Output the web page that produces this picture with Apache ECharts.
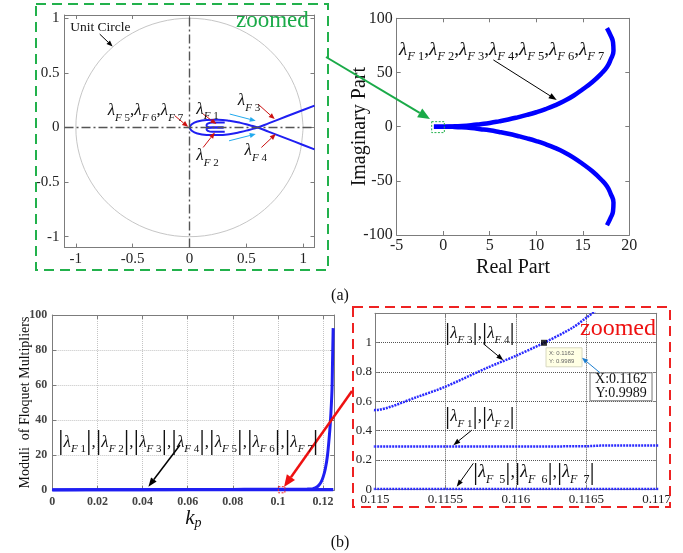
<!DOCTYPE html>
<html>
<head>
<meta charset="utf-8">
<script src="https://cdn.jsdelivr.net/npm/echarts@6/dist/echarts.min.js"></script>
<style>
html, body { margin: 0; padding: 0; background: #fff; }
#c { width: 683px; height: 553px; }
</style>
</head>
<body>
<div id="c"></div>
<script>
// ---------- (a) left: Floquet multipliers inside the unit circle ----------
const unitCircle = [[1,0],[0.966,0.259],[0.866,0.5],[0.707,0.707],[0.5,0.866],[0.259,0.966],[0,1],
  [-0.259,0.966],[-0.5,0.866],[-0.707,0.707],[-0.866,0.5],[-0.966,0.259],[-1,0],[-0.966,-0.259],
  [-0.866,-0.5],[-0.707,-0.707],[-0.5,-0.866],[-0.259,-0.966],[0,-1],[0.259,-0.966],[0.5,-0.866],
  [0.707,-0.707],[0.866,-0.5],[0.966,-0.259],[1,0]];
const locusF3 = [[0,0],[0.02,0.03],[0.07,0.055],[0.15,0.068],[0.25,0.07],[0.35,0.062],[0.45,0.042],
  [0.53,0.02],[0.6,0],[0.7,-0.04],[0.85,-0.1],[1.0,-0.16],[1.1,-0.2]];
const locusF4 = [[0,0],[0.02,-0.03],[0.07,-0.055],[0.15,-0.068],[0.25,-0.07],[0.35,-0.062],[0.45,-0.042],
  [0.53,-0.02],[0.6,0],[0.7,0.04],[0.85,0.1],[1.0,0.16],[1.1,0.2]];
const locusF1 = [[0.31,0.045],[0.2,0.045],[0.16,0.035],[0.15,0.02],[0.16,0.005],[0.2,0],[0.3,0]];
const locusF2 = [[0.31,-0.04],[0.2,-0.04],[0.16,-0.03],[0.15,-0.015],[0.16,-0.005],[0.2,0],[0.3,0]];
const ticksA = [-1, -0.5, 0, 0.5, 1];

// ---------- (a) right: full locus in the complex plane ----------
const rootsUpper = [[-1,0],[0,0],[1,0.2],[2,0.6],[3,1.3],[4,2.3],[5,3.4],[6,4.9],[7,6.6],[8,8.6],[9,10.8],
  [10,13.3],[11,16.2],[12,19.6],[13,23.6],[14,28.5],[15,34.5],[16,41],[17,49],[17.6,55],[18,62],
  [18.3,70],[18.25,78],[18,84],[17.6,91]];
const rootsLower = [[-1,0],[0,0],[1,-0.2],[2,-0.6],[3,-1.3],[4,-2.3],[5,-3.4],[6,-4.9],[7,-6.6],[8,-8.6],[9,-10.8],
  [10,-13.3],[11,-16.2],[12,-19.6],[13,-23.6],[14,-28.5],[15,-34.5],[16,-41],[17,-49],[17.6,-55],[18,-62],
  [18.3,-70],[18.25,-78],[18,-84],[17.6,-91]];

// ---------- (b): moduli of the Floquet multipliers versus k_p ----------
const kp =     [0, 0.01, 0.02, 0.03, 0.04, 0.05, 0.06, 0.07, 0.08, 0.09, 0.1, 0.105, 0.11, 0.113, 0.114,
  0.115, 0.1153, 0.1155, 0.1158, 0.116, 0.1162, 0.1164, 0.1165, 0.1166, 0.1168, 0.117, 0.118, 0.119,
  0.12, 0.121, 0.122, 0.123, 0.1235, 0.124, 0.1242, 0.1245];
const modF34 = [0.02, 0.07, 0.12, 0.16, 0.2, 0.24, 0.28, 0.31, 0.34, 0.38, 0.42, 0.44, 0.48, 0.51, 0.525,
  0.54, 0.63, 0.70, 0.83, 0.91, 0.9989, 1.10, 1.17, 1.24, 1.37, 1.52, 2.5, 4.2,
  7.2, 12, 20, 34, 44, 58, 72, 92.5];
const modF12 = [0.05, 0.08, 0.11, 0.14, 0.17, 0.2, 0.22, 0.24, 0.26, 0.27, 0.28, 0.285, 0.29, 0.291, 0.292,
  0.292, 0.292, 0.292, 0.292, 0.292, 0.292, 0.293, 0.293, 0.298, 0.298, 0.298, 0.299, 0.3,
  0.3, 0.3, 0.3, 0.3, 0.3, 0.3, 0.3, 0.3];
const modF57 = [0.002, 0.002, 0.002, 0.002, 0.002, 0.002, 0.002, 0.002, 0.002, 0.002, 0.002, 0.002, 0.002, 0.002, 0.002,
  0.002, 0.002, 0.002, 0.002, 0.002, 0.002, 0.002, 0.002, 0.002, 0.002, 0.002, 0.002, 0.002,
  0.002, 0.002, 0.002, 0.002, 0.002, 0.002, 0.002, 0.002];
const dataTip = [0.1162, 0.9989];

const FONT = '"Liberation Serif", "Times New Roman", serif';
const FRAME = '#7c7c7c';
const BLUE = '#1f1ff2';

function axis(gi, min, max, o) {
  const a = {
    type: 'value', gridIndex: gi, min: min, max: max, position: o.pos,
    axisLine: { show: true, onZero: false, lineStyle: { color: FRAME, width: 1 } },
    axisTick: { show: true, inside: true, length: 4, lineStyle: { color: FRAME } },
    axisLabel: { show: !o.mirror, color: o.color || '#222', fontFamily: FONT, fontSize: o.fs || 13,
      fontWeight: o.fw || 'normal', margin: o.margin || 5 },
    splitLine: { show: !!o.split && !o.mirror, lineStyle: o.split || {} }
  };
  if (o.interval) a.interval = o.interval;
  if (o.ticks) { a.axisTick.customValues = o.ticks; a.axisLabel.customValues = o.ticks; }
  if (o.formatter) a.axisLabel.formatter = o.formatter;
  if (o.name && !o.mirror) {
    a.name = o.name; a.nameLocation = 'middle'; a.nameGap = o.nameGap; a.nameMoveOverlap = false;
    a.nameTextStyle = Object.assign({ fontFamily: FONT, fontSize: o.nameSize, color: '#111' }, o.nameStyle || {});
  }
  return a;
}

const light = { color: '#c4c4c4', type: 'dotted', width: 1 };
const dark = { color: '#555', type: 'dotted', width: 1 };

const axisSpec = [
  // [min, max, options] for x, then y
  [ [-1.1, 1.1, { ticks: ticksA, fs: 15, margin: 4 }], [-1.1, 1.03, { ticks: ticksA, fs: 15, margin: 5 }] ],
  [ [-5, 20, { interval: 5, fs: 16, margin: 3, name: 'Real Part', nameGap: 23, nameSize: 20 }],
    [-100, 100, { interval: 50, fs: 16, margin: 4, name: 'Imaginary Part', nameGap: 27, nameSize: 20 }] ],
  [ [0, 0.125, { interval: 0.02, fs: 12, fw: 'bold', color: '#444', margin: 6, split: light,
      name: '{k|k}{p|p}', nameGap: 16, nameSize: 20,
      nameStyle: { rich: { k: { fontFamily: FONT, fontStyle: 'italic', fontSize: 21, lineHeight: 24, verticalAlign: 'middle' },
                           p: { fontFamily: FONT, fontStyle: 'italic', fontSize: 14, lineHeight: 14, verticalAlign: 'bottom' } } } }],
    [0, 100, { interval: 20, fs: 12, fw: 'bold', color: '#444', margin: 5, split: light,
      name: 'Moduli  of Floquet Multipliers', nameGap: 20, nameSize: 14 }] ],
  [ [0.115, 0.117, { interval: 0.0005, fs: 13, margin: 4, split: dark }],
    [0, 1.2, { interval: 0.2, fs: 13, margin: 3, split: dark, formatter: v => (v > 1.1 ? '' : String(+v.toFixed(1))) }] ]
];

const grids = [
  { left: 64.5, top: 15, width: 250, height: 232.6 },
  { left: 396.7, top: 18.3, width: 232.6, height: 216.7 },
  { left: 52.3, top: 315, width: 282, height: 175 },
  { left: 375, top: 313.3, width: 281.7, height: 176 }
].map(g => Object.assign({ outerBoundsMode: 'none', containLabel: false }, g));

const xAxes = [], yAxes = [];
axisSpec.forEach((s, gi) => { xAxes.push(axis(gi, s[0][0], s[0][1], Object.assign({ pos: 'bottom' }, s[0][2]))); });
axisSpec.forEach((s, gi) => { yAxes.push(axis(gi, s[1][0], s[1][1], Object.assign({ pos: 'left' }, s[1][2]))); });
axisSpec.forEach((s, gi) => { xAxes.push(axis(gi, s[0][0], s[0][1], Object.assign({}, s[0][2], { pos: 'top', mirror: true }))); });
axisSpec.forEach((s, gi) => { yAxes.push(axis(gi, s[1][0], s[1][1], Object.assign({}, s[1][2], { pos: 'right', mirror: true }))); });

function curve(gi, data, color, width, extra) {
  return Object.assign({
    type: 'line', xAxisIndex: gi, yAxisIndex: gi, data: data, showSymbol: false, symbol: 'none',
    lineStyle: { color: color, width: width }, silent: true, animation: false
  }, extra || {});
}
const pairs = (xs, ys) => xs.map((x, i) => [x, ys[i]]);
const dotted = { color: '#2a2aff', width: 2.5, type: [2, 1] };

const series = [
  curve(0, unitCircle, '#c6c6c6', 1, { smooth: 0.35,
    markLine: { silent: true, symbol: ['none', 'none'], label: { show: false },
      lineStyle: { color: '#555', type: [9, 3, 2, 3], width: 1.4 },
      data: [{ xAxis: 0 }, { yAxis: 0 }] } }),
  curve(0, locusF3, BLUE, 2, { smooth: true }),
  curve(0, locusF4, BLUE, 2, { smooth: true }),
  curve(0, locusF1, BLUE, 2, { smooth: true }),
  curve(0, locusF2, BLUE, 2, { smooth: true }),
  curve(1, rootsUpper, '#0000ff', 4.5, { smooth: true }),
  curve(1, rootsLower, '#0000ff', 4.5, { smooth: true }),
  curve(2, pairs(kp, modF57), BLUE, 3),
  curve(2, pairs(kp, modF12), BLUE, 3),
  curve(2, pairs(kp, modF34), BLUE, 3, { smooth: 0.3 }),
  curve(3, pairs(kp, modF57), '#2a2aff', 2.5, { lineStyle: dotted }),
  curve(3, pairs(kp, modF12), '#2a2aff', 2.5, { lineStyle: dotted }),
  curve(3, pairs(kp, modF34), '#2a2aff', 2.5, { smooth: 0.3, lineStyle: dotted }),
  { type: 'scatter', xAxisIndex: 3, yAxisIndex: 3, data: [dataTip], symbol: 'rect', symbolSize: 6,
    itemStyle: { color: '#000' }, silent: true, animation: false, z: 5 }
];

const chart = echarts.init(document.getElementById('c'));
chart.setOption({
  animation: false,
  backgroundColor: '#fff',
  grid: grids,
  xAxis: xAxes,
  yAxis: yAxes,
  series: series
});

// ---------- annotations ----------
const P = (g, x, y) => chart.convertToPixel({ xAxisIndex: g, yAxisIndex: g }, [x, y]);
const G = [];

function arrow(a, b, color, w, L, W) {
  const dx = b[0] - a[0], dy = b[1] - a[1], len = Math.hypot(dx, dy), ux = dx / len, uy = dy / len;
  const bx = b[0] - ux * L, by = b[1] - uy * L;
  G.push({ type: 'line', z: 100, silent: true, shape: { x1: a[0], y1: a[1], x2: bx, y2: by },
    style: { stroke: color, lineWidth: w } });
  G.push({ type: 'polygon', z: 100, silent: true,
    shape: { points: [[b[0], b[1]], [bx - uy * W, by + ux * W], [bx + uy * W, by - ux * W]] },
    style: { fill: color } });
}
function text(p, str, opts) {
  G.push({ type: 'text', z: 101, silent: true, x: p[0], y: p[1],
    style: Object.assign({ text: str, fill: '#111', font: '13px ' + FONT, textAlign: 'left', textVerticalAlign: 'middle' }, opts || {}) });
}
function rect(x, y, w, h, style) {
  G.push({ type: 'rect', z: 99, silent: true, shape: { x: x, y: y, width: w, height: h },
    style: Object.assign({ fill: 'none' }, style) });
}
function lamRich(L, S, B) {
  return {
    l: { fontFamily: FONT, fontStyle: 'italic', fontSize: L, lineHeight: L + 8, verticalAlign: 'middle' },
    f: { fontFamily: FONT, fontStyle: 'italic', fontSize: S, lineHeight: S + 2, verticalAlign: 'bottom' },
    n: { fontFamily: FONT, fontSize: S, lineHeight: S + 2, verticalAlign: 'bottom' },
    c: { fontFamily: FONT, fontSize: L, lineHeight: L + 8, verticalAlign: 'middle' },
    b: { fontFamily: FONT, fontSize: B || L, lineHeight: L + 8, verticalAlign: 'middle' }
  };
}
function lamStr(nums, bars, gap) {
  return nums.map(n => (bars ? '{b||}' : '') + '{l|λ}{f|F' + (gap || '') + '}{n|' + n + '}' + (bars ? '{b||}' : '')).join('{c|,}');
}

// (a) left panel
text(P(0, -1.05, 0.913), 'Unit Circle', { font: '13.5px ' + FONT });
arrow(P(0, -0.79, 0.855), P(0, -0.677, 0.742), '#000', 1, 6, 2.5);
text(P(0, -0.72, 0.153), lamStr([5, 6, 7], false, ' '), { rich: lamRich(17, 11) });
arrow(P(0, -0.129, 0.107), P(0, -0.012, 0.006), '#cc1111', 1, 6, 2.5);
text(P(0, 0.06, 0.168), lamStr([1], false, ' '), { rich: lamRich(17, 11) });
arrow(P(0, 0.12, 0.123), P(0, 0.237, 0.031), '#cc1111', 1, 6, 2.5);
text(P(0, 0.06, -0.259), lamStr([2], false, ' '), { rich: lamRich(17, 11) });
arrow(P(0, 0.12, -0.183), P(0, 0.223, -0.046), '#cc1111', 1, 6, 2.5);
text(P(0, 0.425, 0.245), lamStr([3], false, ' '), { rich: lamRich(17, 11) });
arrow(P(0, 0.603, 0.214), P(0, 0.75, 0.077), '#cc1111', 1, 6, 2.5);
text(P(0, 0.485, -0.213), lamStr([4], false, ' '), { rich: lamRich(17, 11) });
arrow(P(0, 0.633, -0.183), P(0, 0.759, -0.06), '#cc1111', 1, 6, 2.5);
arrow(P(0, 0.354, 0.123), P(0, 0.583, 0.061), '#22aaee', 1, 6, 2.5);
arrow(P(0, 0.348, -0.122), P(0, 0.583, -0.06), '#22aaee', 1, 6, 2.5);

// (a) right panel
text(P(1, -4.75, 70.8), lamStr([1, 2, 3, 4, 5, 6, 7], false, ' '), { rich: lamRich(19, 12.5) });
arrow(P(1, 5.39, 61.6), P(1, 12.2, 24.6), '#000', 1, 8, 3);
(function () {
  const a = P(1, -1.24, 4.6), b = P(1, 0.12, -5.5);
  rect(a[0], a[1], b[0] - a[0], b[1] - a[1], { stroke: '#22b14c', lineWidth: 1, lineDash: [2, 1.5] });
})();

// (b) left panel
text(P(2, 0.0025, 27.4), lamStr([1, 2, 3, 4, 5, 6, 7], true, ' '), { rich: lamRich(17, 11, 28) });
arrow(P(2, 0.0566, 25.7), P(2, 0.0426, 1.9), '#000', 1.5, 9, 3.5);
(function () {
  const a = P(2, 0.1002, 1.9), b = P(2, 0.1031, -1.6);
  rect(a[0], a[1], b[0] - a[0], b[1] - a[1], { stroke: '#ee2222', lineWidth: 1, lineDash: [2, 1.5] });
})();

// (b) right panel
text(P(3, 0.115497, 1.063), lamStr([3, 4], true, ' '), { rich: lamRich(17, 11, 26) });
arrow(P(3, 0.115769, 0.993), P(3, 0.115911, 0.88), '#000', 1, 7, 2.5);
text(P(3, 0.115497, 0.494), lamStr([1, 2], true, ' '), { rich: lamRich(17, 11, 26) });
arrow(P(3, 0.115687, 0.403), P(3, 0.115556, 0.301), '#000', 1, 7, 2.5);
text(P(3, 0.115696, 0.113), lamStr([5, 6, 7], true, '  '), { rich: lamRich(18, 12, 26) });
arrow(P(3, 0.115698, 0.177), P(3, 0.11558, 0.018), '#000', 1, 7, 2.5);
(function () {
  const m = P(3, dataTip[0], dataTip[1]);
  rect(m[0] + 2, m[1] + 5, 36, 19, { fill: '#ffffe4', stroke: '#d8d8c0', lineWidth: 1 });
  text([m[0] + 5, m[1] + 10.5], 'X: ' + dataTip[0], { font: '6px sans-serif', fill: '#666' });
  text([m[0] + 5, m[1] + 18.5], 'Y: ' + dataTip[1], { font: '6px sans-serif', fill: '#666' });
  rect(m[0] + 46, m[1] + 30, 62, 28, { fill: '#fff', stroke: '#777', lineWidth: 1 });
  text([m[0] + 77, m[1] + 37], 'X:' + dataTip[0], { font: '14px ' + FONT, textAlign: 'center' });
  text([m[0] + 77, m[1] + 51], 'Y:' + dataTip[1], { font: '14px ' + FONT, textAlign: 'center' });
  arrow([m[0] + 56, m[1] + 30], [m[0] + 38, m[1] + 15], '#1e7fd0', 1, 6, 2.5);
})();

// frames, labels and connecting arrows
rect(36, 4, 292, 266, { stroke: '#22b14c', lineWidth: 2, lineDash: [10, 6] });
rect(353, 307, 317, 200, { stroke: '#ee2222', lineWidth: 2, lineDash: [10, 6] });
text([236, 21], 'zoomed', { font: '23px ' + FONT, fill: '#1aaa48' });
text([580, 329], 'zoomed', { font: '24px ' + FONT, fill: '#ee1111' });
arrow([326, 57], [430, 119], '#1aaa48', 2, 12, 5);
arrow([352, 391], [284, 487], '#ee1111', 2.5, 12, 5);
text([340, 296], '(a)', { font: '16px ' + FONT, textAlign: 'center' });
text([340, 543], '(b)', { font: '16px ' + FONT, textAlign: 'center' });

chart.setOption({ graphic: G });
</script>
</body>
</html>
